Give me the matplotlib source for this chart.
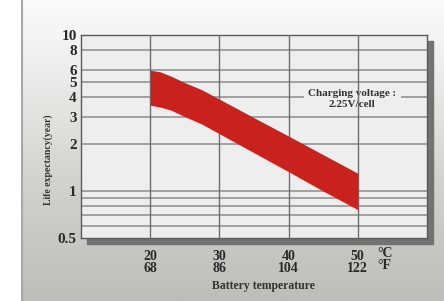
import numpy as np
import matplotlib
matplotlib.use('Agg')
import matplotlib.pyplot as plt
from matplotlib.patches import Rectangle

# battery temperature (deg C) and life expectancy band (years)
temp_c = [20, 21.5, 23, 25, 27.5, 30, 35, 40, 45, 50]
life_upper = [5.95, 5.8, 5.45, 4.95, 4.45, 3.88, 2.95, 2.25, 1.71, 1.3]
life_lower = [3.55, 3.45, 3.3, 3.0, 2.68, 2.33, 1.76, 1.33, 1.0, 0.76]

x_ticks_c = [20, 30, 40, 50]
x_ticks_f = [68, 86, 104, 122]
y_ticks = [0.5, 1, 2, 3, 4, 5, 6, 8, 10]
y_minor = [0.6, 0.7, 0.8, 0.9]

W, H = 444, 301
SERIF = ['Liberation Serif', 'DejaVu Serif']
GRID = '#8c8c8c'
FACE = '#eeeeee'
RED = '#c9211e'

fig = plt.figure(figsize=(W / 100, H / 100), dpi=100)
fig.patch.set_facecolor('white')

# gradient panel behind everything
bg = fig.add_axes([21 / W, 0, 1 - 21 / W, 1])
grad = np.linspace(0, 1, 256).reshape(-1, 1)
cmap = matplotlib.colors.LinearSegmentedColormap.from_list(
    'bg', [(0, '#fbfbfb'), (0.25, '#ececec'), (0.6, '#d2d2d0'), (1, '#bdbdba')])
bg.imshow(grad, aspect='auto', cmap=cmap, extent=[0, 1, 0, 1], origin='upper')
bg.axvline(0.002, color='#a8a8a8', lw=1.5)
bg.set_axis_off()

# plot area
left, top, right, bottom = 81, 35, 427, 238
ax_rect = [left / W, 1 - bottom / H, (right - left) / W, (bottom - top) / H]

# drop shadow (drawn inside the background axes so it stays below the plot)
bg.add_patch(Rectangle(((left + 6) / W, 1 - (bottom + 6) / H),
                       (right - left) / W, (bottom - top) / H,
                       transform=fig.transFigure, color='#727272', zorder=5))

ax = fig.add_axes(ax_rect)
ax.set_facecolor(FACE)
ax.set_yscale('log')
ax.set_xlim(10, 60)
ax.set_ylim(0.5, 10)

for v in y_ticks[1:-1] + y_minor:
    ax.axhline(v, color=GRID, lw=1.1, zorder=1)
for v in x_ticks_c:
    ax.axvline(v, color='#6e6e6e', lw=1.0, zorder=3)

ax.fill_between(temp_c, life_lower, life_upper, color=RED, lw=0, zorder=4)

ax.set_yticks(y_ticks)
ax.set_yticklabels([('%g' % v) for v in y_ticks])
ax.yaxis.set_minor_locator(matplotlib.ticker.NullLocator())
ax.set_xticks(x_ticks_c)
ax.set_xticklabels(['%d\n%d' % (c, f) for c, f in zip(x_ticks_c, x_ticks_f)])
ax.tick_params(length=0)
ax.tick_params(axis='y', pad=3)
ax.tick_params(axis='x', pad=9)
for lab in ax.get_yticklabels():
    lab.set_fontsize(11)
for lab in ax.get_xticklabels():
    lab.set_fontsize(10)
    lab.set_linespacing(0.85)
for lab in ax.get_yticklabels() + ax.get_xticklabels():
    lab.set_fontfamily(SERIF)
    lab.set_fontweight('bold')
    lab.set_color('#2a2a2a')

for s in ax.spines.values():
    s.set_color('#5a5a5a')
    s.set_linewidth(1.0)

ax.text(52.9, 0.5 / 10 ** (9 / 156), '°C\n°F', ha='left', va='top',
        fontfamily=SERIF, fontweight='bold', fontsize=10, color='#2a2a2a',
        linespacing=0.85, clip_on=False)

ax.text(49.2, 3.88, 'Charging voltage :\n2.25V/cell', ha='center', va='center',
        fontfamily=SERIF, fontweight='bold', fontsize=8, color='#333333',
        linespacing=1.25, zorder=2,
        bbox=dict(boxstyle='square,pad=0.4', fc=FACE, ec='none'))

fig.text(263 / W, 1 - 286 / H, 'Battery temperature', ha='center', va='center',
         fontfamily=SERIF, fontweight='bold', fontsize=8.5, color='#333333')
fig.text(48 / W, 1 - 160 / H, 'Life expectancy(year)', ha='center', va='center',
         rotation=90, fontfamily=SERIF, fontweight='bold', fontsize=7,
         color='#333333')

fig.savefig('out.png', dpi=100)
